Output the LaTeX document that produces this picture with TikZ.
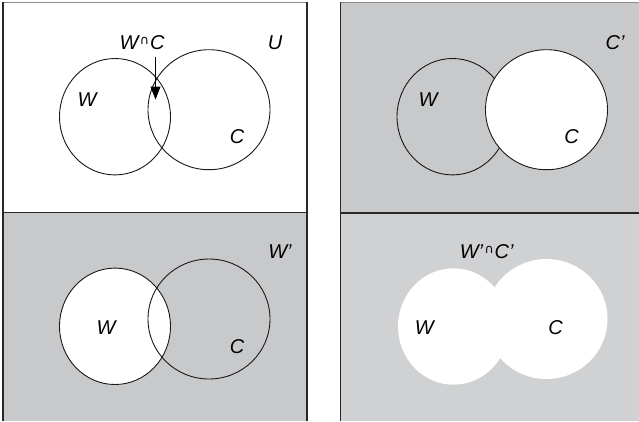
\documentclass[tikz,border=0pt]{standalone}
\usepackage{fontspec}
\setmainfont{Liberation Sans}
\newfontfamily\symfont{DejaVu Sans}
\usetikzlibrary{arrows.meta}
\definecolor{grayA}{RGB}{200,201,203}
\definecolor{grayB}{RGB}{208,209,211}
\definecolor{edge}{RGB}{40,40,40}
\newcommand{\capsym}{\hspace{1.5pt}\raisebox{5.5pt}{\symfont\fontsize{12.5}{12.5}\selectfont ∩}\hspace{1pt}}
\begin{document}
\begin{tikzpicture}[x=1pt,y=-1pt,
  lbl/.style={font=\fontsize{20}{20}\selectfont\itshape, inner sep=0pt},
  circ/.style={line width=0.9pt, draw=black!90},
  border/.style={line width=1.4pt, draw=edge},
  topline/.style={line width=1pt, draw=black!45}]
\useasboundingbox (0,0) rectangle (639,421);
% backgrounds
\fill[white] (3,2.5) rectangle (307,212.5);
\fill[grayA] (3,212.5) rectangle (307,421);
\fill[grayA] (340.7,2.5) rectangle (639,212.5);
\fill[grayB] (340.7,212.5) rectangle (639,421);
% ---- top-left: W and C, U
\draw[circ] (115,116.7) ellipse [x radius=55.5, y radius=58.2];
\draw[circ] (209,109.7) ellipse [x radius=61, y radius=60];
\node[lbl] (tlWC) at (142,43) {W\capsym C};
\node[lbl] (tlU) at (275,43) {U};
\node[lbl] (tlW) at (87,100) {W};
\node[lbl] (tlC) at (237,137) {C};
\coordinate (arrS) at (155.5,57);
\coordinate (arrE) at (155.5,99.5);
\draw[line width=1pt, -{Triangle[length=13pt,width=10pt]}] (arrS) -- (arrE);
% ---- top-right: C'
\draw[circ] (452.5,116.7) ellipse [x radius=55.5, y radius=58.2];
\filldraw[circ, fill=white] (546.5,109.7) ellipse [x radius=61, y radius=60];
\node[lbl] (trCp) at (615,43) {C’};
\node[lbl] (trW) at (428,100) {W};
\node[lbl] (trC) at (571.7,137) {C};
% ---- bottom-left: W'
\fill[white] (115,326.3) ellipse [x radius=55.5, y radius=58.2];
\draw[circ] (115,326.3) ellipse [x radius=55.5, y radius=58.2];
\draw[circ] (209,319) ellipse [x radius=61, y radius=60];
\node[lbl] (blWp) at (280,251.7) {W’};
\node[lbl] (blW) at (106,328) {W};
\node[lbl] (blC) at (237,346.7) {C};
% ---- bottom-right: W'∩C'
\fill[white] (453.5,326.5) ellipse [x radius=55.5, y radius=58.2];
\fill[white] (546.5,319) ellipse [x radius=61, y radius=60];
\node[lbl] (brWC) at (486.7,251.7) {W’\capsym C’};
\node[lbl] (brW) at (424.3,328) {W};
\node[lbl] (brC) at (555.7,328) {C};
% borders
\draw[topline] (3,2.5) -- (307,2.5);
\draw[topline] (340.7,2.5) -- (639,2.5);
\draw[border] (3,2) -- (3,421);
\draw[border] (307,2) -- (307,421);
\draw[border] (3,212.5) -- (307,212.5);
\draw[border] (340.7,2) -- (340.7,421);
\draw[border, line width=2pt] (340.7,212.7) -- (639,212.7);
\end{tikzpicture}
\end{document}
